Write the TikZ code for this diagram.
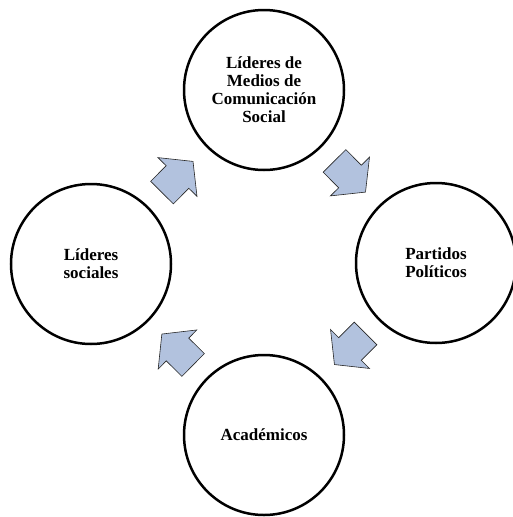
\documentclass[tikz,border=0pt]{standalone}
\usepackage{fontspec}
\setmainfont{Liberation Serif}
\definecolor{arrowfill}{RGB}{178,194,222}
\begin{document}
\begin{tikzpicture}[x=1pt,y=-1pt,
  circ/.style={circle, draw=black, line width=2.5pt, minimum size=160pt, inner sep=0pt,
    align=center, font=\bfseries\fontsize{17}{18}\selectfont},
  blk/.style={fill=arrowfill, draw=black!85, line width=0.6pt, line join=miter},
  blockarr/.pic={\path[blk] (-22pt,16pt) -- (0pt,16pt) -- (0pt,27.5pt) -- (22pt,0pt)
      -- (0pt,-27.5pt) -- (0pt,-16pt) -- (-22pt,-16pt) -- cycle;}]
\useasboundingbox (0,0) rectangle (512,517);
\node[circ] (med) at (264,90) {Líderes de\\Medios de\\Comunicación\\Social};
\node[circ] (soc) at (91,264) {Líderes\\sociales};
\node[circ] (par) at (436,263) {Partidos\\Políticos};
\node[circ] (aca) at (264,435) {Académicos};
\path (soc) -- pic[pos=0.5,sloped,allow upside down]{blockarr} (med);
\path (med) -- pic[pos=0.5,sloped,allow upside down]{blockarr} (par);
\path (par) -- pic[pos=0.5,sloped,allow upside down]{blockarr} (aca);
\path (aca) -- pic[pos=0.5,sloped,allow upside down]{blockarr} (soc);
\end{tikzpicture}
\end{document}
